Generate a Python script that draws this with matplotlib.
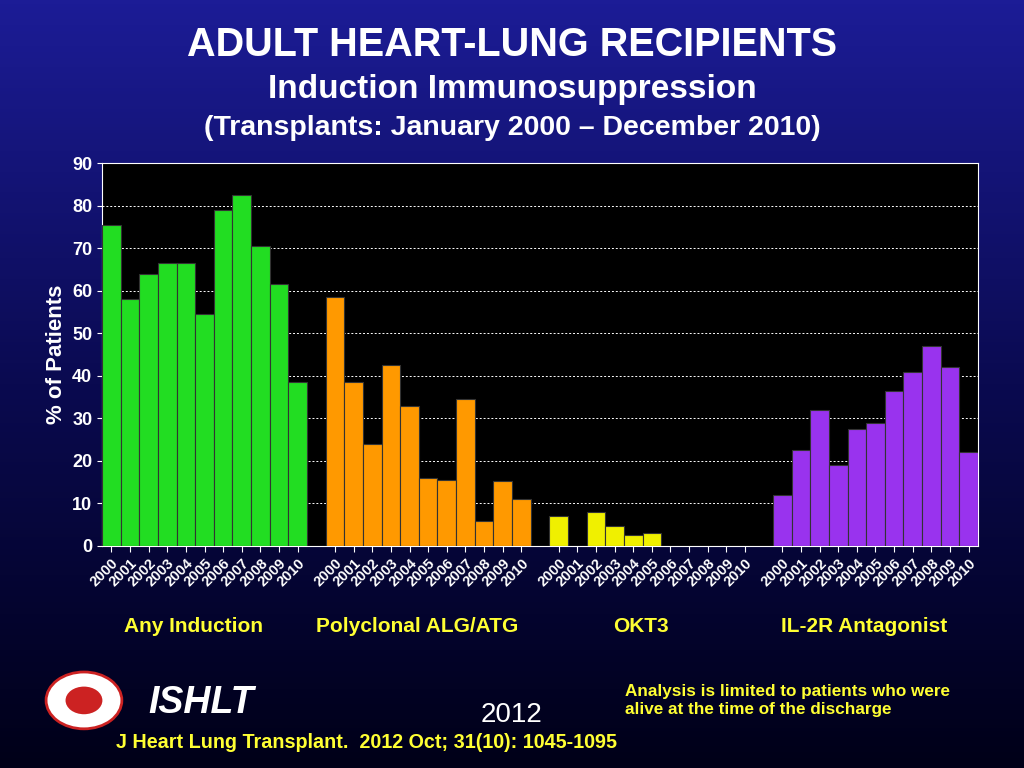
import numpy as np
import matplotlib.pyplot as plt
from matplotlib.patches import Circle
from matplotlib.colors import LinearSegmentedColormap

plt.rcParams["font.family"] = "Liberation Sans"

years = [str(y) for y in range(2000, 2011)]
groups = ["Any Induction", "Polyclonal ALG/ATG", "OKT3", "IL-2R Antagonist"]
any_induction = [75.5, 58, 64, 66.5, 66.5, 54.5, 79, 82.5, 70.5, 61.5, 38.5]
polyclonal = [58.5, 38.5, 24, 42.5, 33, 16, 15.5, 34.5, 5.8, 15.3, 11]
okt3 = [7, 0, 8, 4.7, 2.5, 3, 0, 0, 0, 0, 0]
il2r = [12, 22.5, 32, 19, 27.5, 29, 36.5, 41, 47, 42, 22]
series = [any_induction, polyclonal, okt3, il2r]
colors = ["#22dd22", "#ff9900", "#f0f000", "#9933ee"]

fig = plt.figure(figsize=(10.24, 7.68), dpi=100)
bg = fig.add_axes([0, 0, 1, 1])
grad = np.linspace(0, 1, 256).reshape(-1, 1)
cm = LinearSegmentedColormap.from_list("bg", ["#1c1c96", "#0a0a50", "#000018"])
bg.imshow(grad, aspect="auto", cmap=cm, extent=[0, 1, 0, 1])
bg.axis("off")

ax = fig.add_axes([102 / 1024, 1 - 546 / 768, 876 / 1024, 383 / 768])
ax.set_facecolor("black")
positions = []
for g, (vals, c) in enumerate(zip(series, colors)):
    x = np.arange(11) + g * 12
    positions.extend(x)
    ax.bar(x, vals, width=1.0, color=c, edgecolor="#333333", linewidth=0.8, zorder=3)
ax.set_xlim(-0.5, 46.5)
ax.set_ylim(0, 90)
ax.set_yticks(range(0, 91, 10))
ax.yaxis.grid(True, color="white", linestyle=(0, (2, 2)), linewidth=0.7)
ax.set_xticks(positions)
ax.set_xticklabels(years * 4, rotation=45, ha="right", rotation_mode="anchor",
                   color="white", fontsize=10.5, fontweight="bold")
ax.tick_params(axis="y", colors="white", labelsize=13)
for lab in ax.get_yticklabels():
    lab.set_fontweight("bold")
ax.tick_params(axis="x", colors="white", length=4)
for s in ax.spines.values():
    s.set_color("white")
ax.set_ylabel("% of Patients", color="white", fontsize=16, fontweight="bold")

for g, name in enumerate(groups):
    xc = g * 12 + 4.4
    ax.text(xc, -18.8, name, color="#ffff33", fontsize=15, fontweight="bold",
            ha="center", va="center", transform=ax.transData, clip_on=False)

fig.text(0.5, 0.942, "ADULT HEART-LUNG RECIPIENTS", color="white", fontsize=28.5,
         fontweight="bold", ha="center", va="center")
fig.text(0.5, 0.884, "Induction Immunosuppression", color="white", fontsize=24,
         fontweight="bold", ha="center", va="center")
fig.text(0.5, 0.833, "(Transplants: January 2000 \u2013 December 2010)", color="white",
         fontsize=20.5, fontweight="bold", ha="center", va="center")
fig.text(0.145, 0.085, "ISHLT", color="white", fontsize=27, fontweight="bold",
         style="italic", ha="left", va="center")
fig.text(0.5, 0.069, "2012", color="white", fontsize=20, ha="center", va="center")
fig.text(0.113, 0.033, "J Heart Lung Transplant.  2012 Oct; 31(10): 1045-1095",
         color="#ffff33", fontsize=14.2, fontweight="bold", ha="left", va="center")
fig.text(0.61, 0.088, "Analysis is limited to patients who were\nalive at the time of the discharge",
         color="#ffff33", fontsize=12.3, fontweight="bold", ha="left", va="center",
         linespacing=1.3)

bg.add_patch(Circle((0.082, 0.088), 0.037, transform=bg.transAxes, facecolor="white",
                    edgecolor="#cc2222", linewidth=2))
bg.add_patch(Circle((0.082, 0.088), 0.018, transform=bg.transAxes, facecolor="#cc2222"))
bg.set_xlim(0, 1); bg.set_ylim(0, 1)

fig.savefig("out.png", dpi=100)
